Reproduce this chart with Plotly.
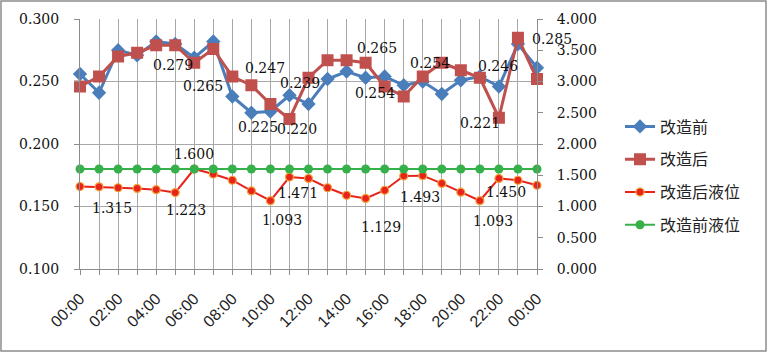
import plotly.graph_objects as go

# ---------------- data ----------------
hours = [f"{h:02d}:00" for h in range(24)] + ["00:00"]
x_idx = list(range(len(hours)))
tick_labels = [h if i % 2 == 0 else "" for i, h in enumerate(hours)]

before = [0.256, 0.241, 0.275, 0.271, 0.282, 0.280, 0.269, 0.282, 0.238, 0.225,
          0.226, 0.239, 0.232, 0.252, 0.258, 0.253, 0.254, 0.247, 0.250, 0.240,
          0.251, 0.254, 0.246, 0.280, 0.261]
after = [0.246, 0.254, 0.270, 0.273, 0.279, 0.279, 0.265, 0.276, 0.254, 0.247,
         0.232, 0.220, 0.253, 0.267, 0.267, 0.265, 0.246, 0.238, 0.254, 0.265,
         0.259, 0.253, 0.221, 0.285, 0.252]
level_after = [1.320, 1.315, 1.300, 1.290, 1.270, 1.223, 1.600, 1.520, 1.420, 1.250,
               1.093, 1.471, 1.450, 1.300, 1.180, 1.129, 1.260, 1.490, 1.493, 1.370,
               1.230, 1.093, 1.450, 1.420, 1.340]
level_before = [1.600] * 25

# labelled points: index -> (x offset px, y offset px, screen-down positive)
after_labels = {5: (-2, 20), 6: (9, 23), 9: (14, -17), 11: (8, 10),
                15: (11, -15), 18: (7, -14), 22: (-19, 5), 23: (34, 1)}
before_labels = {9: (7, 14), 11: (11, -12), 16: (-10, 16), 22: (-1, -21)}
level_after_labels = {1: (13, 21), 5: (11, 17), 10: (12, 19), 11: (9, 16),
                      15: (15, 29), 18: (-3, 21), 21: (13, 20), 22: (7, 14)}
level_before_labels = {6: (0, -15)}

BLUE = "#4A7EBB"
RED = "#C0504D"
RED2 = "#E8231C"
ORANGE = "#F2A33A"
GREEN = "#35B04A"
GRID = "#A8A8A8"
AXIS = "#8C8C8C"
NUMFONT = "DejaVu Serif"

fig = go.Figure()

fig.add_trace(go.Scatter(
    x=x_idx, y=before, name="改造前", mode="lines+markers", yaxis="y",
    line=dict(color=BLUE, width=3), legendgroup="a",
    marker=dict(symbol="diamond", size=11, color=BLUE), cliponaxis=False))
fig.add_trace(go.Scatter(
    x=x_idx, y=after, name="改造后", mode="lines+markers", yaxis="y",
    line=dict(color=RED, width=3), legendgroup="b",
    marker=dict(symbol="square", size=12, color=RED), cliponaxis=False))
fig.add_trace(go.Scatter(
    x=x_idx, y=level_after, name="改造后液位", mode="lines+markers", yaxis="y2",
    line=dict(color=RED2, width=2), legendgroup="c",
    marker=dict(symbol="circle", size=8, color=RED2, line=dict(color=ORANGE, width=1.2)),
    cliponaxis=False))
fig.add_trace(go.Scatter(
    x=x_idx, y=level_before, name="改造前液位", mode="lines+markers", yaxis="y2",
    line=dict(color=GREEN, width=2), legendgroup="d",
    marker=dict(symbol="circle", size=9, color=GREEN), cliponaxis=False))

annotations = []


def add_labels(values, labels, yref):
    for i, (dx, dy) in sorted(labels.items()):
        annotations.append(dict(
            x=x_idx[i], y=values[i], xref="x", yref=yref,
            text=f"{values[i]:.3f}", showarrow=False,
            xanchor="center", yanchor="middle", xshift=dx, yshift=-dy,
            font=dict(family=NUMFONT, size=14, color="#111111")))


add_labels(after, after_labels, "y")
add_labels(before, before_labels, "y")
add_labels(level_after, level_after_labels, "y2")
add_labels(level_before, level_before_labels, "y2")

W, H = 768, 354
L, R, T, B = 80, 231, 19, 85
pw, ph = W - L - R, H - T - B


def px(xp):
    return (xp - L) / pw


def py(yp):
    return (H - B - yp) / ph


fig.update_layout(
    width=W, height=H,
    margin=dict(l=L, r=R, t=T, b=B),
    paper_bgcolor="white", plot_bgcolor="white",
    showlegend=True,
    annotations=annotations,
    legend=dict(x=px(620), xanchor="left", y=py(176), yanchor="middle",
                font=dict(family="Noto Sans CJK SC", size=16, color="#222222"),
                bgcolor="rgba(0,0,0,0)", tracegroupgap=9, itemwidth=30),
    xaxis=dict(range=[0, 24], tickvals=x_idx, ticktext=tick_labels, tickangle=-45,
               showgrid=True, gridcolor=GRID, gridwidth=1, zeroline=False,
               showline=True, linecolor=AXIS, linewidth=1,
               ticks="outside", ticklen=5, tickcolor=AXIS, ticklabelstandoff=8,
               tickfont=dict(family="Liberation Sans", size=16, color="#222222")),
    yaxis=dict(range=[0.1, 0.3], dtick=0.05, tick0=0.1, tickformat=".3f",
               showgrid=True, gridcolor=GRID, gridwidth=1, zeroline=False,
               showline=True, linecolor=AXIS, linewidth=1,
               ticks="outside", ticklen=5, tickcolor=AXIS, ticklabelstandoff=12,
               tickfont=dict(family=NUMFONT, size=14, color="#111111")),
    yaxis2=dict(range=[0, 4], dtick=0.5, tick0=0, tickformat=".3f", overlaying="y",
                side="right", showgrid=False, zeroline=False,
                showline=True, linecolor=AXIS, linewidth=1,
                ticks="outside", ticklen=5, tickcolor=AXIS, ticklabelstandoff=11,
                tickfont=dict(family=NUMFONT, size=14, color="#111111")),
    shapes=[dict(type="rect", xref="paper", yref="paper",
                 x0=px(1), x1=px(766), y0=py(351), y1=py(1),
                 line=dict(color="#8C8C8C", width=1.5), layer="below")],
)

fig.write_html("out.html")
